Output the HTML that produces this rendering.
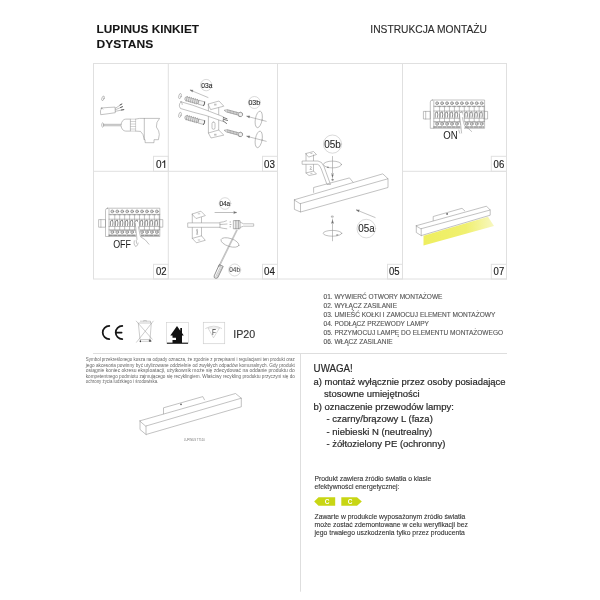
<!DOCTYPE html>
<html><head><meta charset="utf-8">
<style>
html,body{margin:0;padding:0;background:#fff;width:600px;height:600px;overflow:hidden}
svg{position:absolute;left:0;top:0;display:block;filter:blur(0.45px)}
text{font-family:"Liberation Sans",sans-serif}
</style></head><body>
<svg width="600" height="600" viewBox="0 0 600 600">
<!-- titles -->
<g fill="#151515" stroke="#151515" stroke-width="0.08" font-weight="bold" font-size="11.2">
<text x="96.6" y="32.9" textLength="102.4" lengthAdjust="spacingAndGlyphs">LUPINUS KINKIET</text>
<text x="96.6" y="47.5" textLength="56.6" lengthAdjust="spacingAndGlyphs">DYSTANS</text>
</g>
<text x="370.3" y="32.6" font-size="10.3" fill="#2b2b2b" stroke="#2b2b2b" stroke-width="0.12" textLength="116.6" lengthAdjust="spacingAndGlyphs">INSTRUKCJA MONTAŻU</text>

<!-- grid -->
<g stroke="#e0e0e0" stroke-width="1" fill="none">
<rect x="93.5" y="63.5" width="413" height="215.5"/>
<line x1="93.5" y1="171.3" x2="277.5" y2="171.3"/>
<line x1="402.5" y1="171.3" x2="506.5" y2="171.3"/>
<line x1="168.3" y1="63.5" x2="168.3" y2="279"/>
<line x1="277.5" y1="63.5" x2="277.5" y2="279"/>
<line x1="402.5" y1="63.5" x2="402.5" y2="279"/>
<!-- number boxes -->
<rect x="153.5" y="156.3" width="14.8" height="15"/>
<rect x="262.5" y="156.3" width="15" height="15"/>
<rect x="491.3" y="156.3" width="15.2" height="15"/>
<rect x="153.5" y="264.3" width="14.8" height="14.7"/>
<rect x="262.5" y="264.3" width="15" height="14.7"/>
<rect x="387.5" y="264.3" width="15" height="14.7"/>
<rect x="491.3" y="264.3" width="15.2" height="14.7"/>
</g>
<g fill="#222" stroke="#222" stroke-width="0.15" font-size="10">
<text x="155.9" y="167.7">0</text>
<text x="264.1" y="167.7" textLength="10.9" lengthAdjust="spacingAndGlyphs">03</text>
<text x="493.6" y="167.7" textLength="10.6" lengthAdjust="spacingAndGlyphs">06</text>
<text x="155.9" y="275.4" textLength="10.6" lengthAdjust="spacingAndGlyphs">02</text>
<text x="264.1" y="275.4" textLength="10.9" lengthAdjust="spacingAndGlyphs">04</text>
<text x="389" y="275.4" textLength="10.6" lengthAdjust="spacingAndGlyphs">05</text>
<text x="493.6" y="275.4" textLength="10.6" lengthAdjust="spacingAndGlyphs">07</text>
</g>
<path d="M164.7,160.2 V167.9 M164.7,160.4 Q163.9,162 162.2,162.6" fill="none" stroke="#222" stroke-width="1.05"/>
<!-- steps -->
<g fill="#555" stroke="#555" stroke-width="0.12" font-size="6.55">
<text x="323.5" y="299.2">01. WYWIERĆ OTWORY MONTAŻOWE</text>
<text x="323.5" y="308.1">02. WYŁĄCZ ZASILANIE</text>
<text x="323.5" y="317.0">03. UMIEŚĆ KOŁKI I ZAMOCUJ ELEMENT MONTAŻOWY</text>
<text x="323.5" y="325.9">04. PODŁĄCZ PRZEWODY LAMPY</text>
<text x="323.5" y="334.8">05. PRZYMOCUJ LAMPĘ DO ELEMENTU MONTAŻOWEGO</text>
<text x="323.5" y="343.7">06. WŁĄCZ ZASILANIE</text>
</g>

<!-- IP20 -->
<text x="233.2" y="338.3" font-size="10.8" fill="#333" stroke="#333" stroke-width="0.15" textLength="22" lengthAdjust="spacingAndGlyphs">IP20</text>

<!-- separators -->
<g stroke="#dedede" stroke-width="1">
<line x1="93" y1="353.5" x2="507" y2="353.5"/>
<line x1="300.5" y1="353.5" x2="300.5" y2="591.7"/>
</g>

<!-- UWAGA -->
<g fill="#2a2a2a" stroke="#2a2a2a" stroke-width="0.2" font-size="9.5">
<text x="313.6" y="371.9" font-size="10.6" textLength="39.2" lengthAdjust="spacingAndGlyphs">UWAGA!</text>
<text x="313.5" y="385" textLength="192" lengthAdjust="spacingAndGlyphs">a) montaż wyłącznie przez osoby posiadające</text>
<text x="324" y="397.4">stosowne umiejętności</text>
<text x="313.5" y="409.9">b) oznaczenie przewodów lampy:</text>
<text x="326.5" y="422.4">- czarny/brązowy L (faza)</text>
<text x="326.5" y="434.9">- niebieski N (neutrealny)</text>
<text x="326.5" y="447.4">- żółtozielony PE (ochronny)</text>
</g>

<g fill="#333" stroke="#333" stroke-width="0.1" font-size="6.8">
<text x="314.5" y="481.3">Produkt zawiera źródło światła o klasie</text>
<text x="314.5" y="489.2">efektywności energetycznej:</text>
<text x="314.5" y="519.2">Zawarte w produkcie wyposażonym źródło światła</text>
<text x="314.5" y="527.1">może zostać zdemontowane w celu weryfikacji bez</text>
<text x="314.5" y="535">jego trwałego uszkodzenia tylko przez producenta</text>
</g>
<!-- energy labels -->
<g fill="#c8d614">
<polygon points="314.2,501.5 318.5,497.2 335.2,497.2 335.2,505.8 318.5,505.8"/>
<polygon points="341.3,497.2 357,497.2 361.8,501.5 357,505.8 341.3,505.8"/>
</g>
<g fill="#fff" font-size="6.5" font-weight="bold" text-anchor="middle">
<text x="327" y="503.8">C</text>
<text x="350" y="503.8">C</text>
</g>

<!-- WEEE paragraph -->
<g fill="#666" font-size="5.2">
<text x="85.8" y="361.3" textLength="209" lengthAdjust="spacingAndGlyphs">Symbol przekreślonego kosza na odpady oznacza, że zgodnie z przepisami i regulacjami ten produkt oraz</text>
<text x="85.8" y="366.8" textLength="209" lengthAdjust="spacingAndGlyphs">jego akcesoria powinny być utylizowane oddzielnie od zwykłych odpadów komunalnych. Gdy produkt</text>
<text x="85.8" y="372.3" textLength="209" lengthAdjust="spacingAndGlyphs">osiągnie koniec okresu eksploatacji, użytkownik może się zdecydować na oddanie produktu do</text>
<text x="85.8" y="377.8" textLength="209" lengthAdjust="spacingAndGlyphs">kompetentnego podmiotu zajmującego się recyklingiem. Właściwy recykling produktu przyczyni się do</text>
<text x="85.8" y="383.3" textLength="72.5" lengthAdjust="spacingAndGlyphs">ochrony życia ludzkiego i środowiska.</text>
</g>
<!-- ===== DRAWINGS ===== -->
<g fill="none" stroke="#909090" stroke-width="0.55" stroke-linejoin="round" stroke-linecap="round">
<!-- panel 01 -->
<ellipse cx="103" cy="98.3" rx="1.1" ry="2.4" transform="rotate(20 103 98.3)"/>
<path d="M101.6,108 Q99.6,110.5 100.7,114.7 Q108,113.8 115.3,112.7 L115.1,107.1 Q108,107.4 101.6,108 Z"/>
<path d="M101,108.2 Q102.5,107.6 103,109"/>
<path d="M115.3,108.3 L121.7,104.2 M115.3,109.8 L122.3,106.8 M115.3,111.3 L123.7,109.7"/>
<path d="M120,104.9 L121.9,104 M120.5,107.5 L122.5,106.7 M121.3,110 L123.8,109.6" stroke="#555" stroke-width="0.9"/>
<ellipse cx="102.7" cy="125" rx="1" ry="2.2"/>
<path d="M104,124.3 H121 M104,125.8 H121" />
<path d="M104.5,125 H120.5" stroke="#aaa" stroke-width="0.4" stroke-dasharray="0.4,0.6"/>
<path d="M121,124.8 Q122,119.2 125.8,119.1 H130.4 V131.1 H125.8 Q122,131 121,126"/>
<path d="M130.4,119.1 H135.6 V131.1 H130.4 M130.4,121.5 H135.6 M130.4,124 H135.6 M130.4,126.5 H135.6 M130.4,129 H135.6" stroke="#b0b0b0"/>
<path d="M135.6,119.1 L139.6,118.4 H159.6 Q156,122 156.4,127 Q159.4,131 159.3,134.5 L158.4,139.7 H154 V142.7 H145.1 V139.7 L144.3,139.7 Q143.6,133.6 140.5,131.4 L135.6,131.1"/>
<path d="M144.3,118.4 V139.7"/>

<!-- panel 03 -->
<circle cx="206.2" cy="85.1" r="5.7" stroke="#bbb"/>
<path d="M208,97.5 L190.5,90.2 M190.3,90.1 L192.8,90.2 M190.3,90.1 L192.2,91.7"/>
<ellipse cx="180" cy="96.1" rx="1.2" ry="2.7" transform="rotate(15 180 96.1)"/>
<ellipse cx="180" cy="114.9" rx="1.2" ry="2.7" transform="rotate(15 180 114.9)"/>




<defs><g id="dowel"><path d="M0,-1.2 L1.50,-2.4 L2.55,-1.6 L3.60,-2.4 L4.65,-1.6 L5.70,-2.4 L6.75,-1.6 L7.80,-2.4 L8.85,-1.6 L9.90,-2.4 L10.95,-1.6 L12.00,-2.4 L13.05,-1.6 L14,-1.8 L14,1.8 L13.05,1.6 L12.00,2.4 L10.95,1.6 L9.90,2.4 L8.85,1.6 L7.80,2.4 L6.75,1.6 L5.70,2.4 L4.65,1.6 L3.60,2.4 L2.55,1.6 L1.50,2.4 L0,1.2 Z" fill="#e4e4e4" stroke="#808080" stroke-width="0.5"/>
<path d="M1.50,-2.3 L1.50,2.3 M3.60,-2.3 L3.60,2.3 M5.70,-2.3 L5.70,2.3 M7.80,-2.3 L7.80,2.3 M9.90,-2.3 L9.90,2.3 M12.00,-2.3 L12.00,2.3" stroke="#8a8a8a" stroke-width="0.5"/>
<path d="M14,-2 H19.6 Q20.4,0 19.6,2 H14 Z" fill="#f4f4f4" stroke="#8a8a8a" stroke-width="0.5"/>
<path d="M19.6,-2 Q20.4,0 19.6,2" stroke="#555" stroke-width="0.8"/></g><g id="screw"><path d="M0,0 L2.5,-1.2 H15 V1.2 H2.5 Z" fill="#e8e8e8" stroke="#808080" stroke-width="0.5"/>
<path d="M3.00,-1.2 L3.70,1.2 M4.50,-1.2 L5.20,1.2 M6.00,-1.2 L6.70,1.2 M7.50,-1.2 L8.20,1.2 M9.00,-1.2 L9.70,1.2 M10.50,-1.2 L11.20,1.2 M12.00,-1.2 L12.70,1.2 M13.50,-1.2 L14.20,1.2" stroke="#8a8a8a" stroke-width="0.45"/>
<path d="M15,-1.2 L15.5,-2.3 Q18.6,-2.6 18.8,0 Q18.6,2.6 15.5,2.3 L15,1.2" fill="#f0f0f0" stroke="#6a6a6a" stroke-width="0.6"/></g></defs>
<use href="#dowel" transform="translate(185.3,98.4) rotate(16)"/>
<use href="#dowel" transform="translate(185.3,117.2) rotate(16)"/>
<use href="#screw" transform="translate(224.5,110.2) rotate(15)"/>
<use href="#screw" transform="translate(224.5,130.2) rotate(15)"/>
<path d="M208.4,104 L219,101 L223.8,106.2 L211,109.5 Z M208.4,104 V133 L211,138 L223.8,135.1 L218.7,130 L208.4,133 M218.7,108 V130 M214.5,104.2 h1.6 M214.5,105 h1.6 M214.5,134.3 h1.6 M214.5,135.1 h1.6"/>
<rect x="212" y="122" width="3" height="7.3" rx="1.5"/>
<path d="M181,101.75 Q192,104.6 206,110 L223.4,116.8 L223.4,121.6 L206,115.5 Q193.5,112.5 180.5,108.5 Q177.8,105 181,101.75 Z" fill="#fff"/>
<path d="M181,101.75 Q182.5,102.3 182.3,104.5"/>
<path d="M223.5,117.5 L227,118.8 M223.3,119.2 L227.5,120.5 M223,120.8 L226.6,123.5" stroke="#555" stroke-width="0.8"/>




<circle cx="254.4" cy="102.5" r="6" stroke="#bbb"/>
<ellipse cx="258.75" cy="119.4" rx="3.4" ry="8.4" transform="rotate(10 258.75 119.4)"/>
<ellipse cx="258.75" cy="139.4" rx="3.4" ry="8.4" transform="rotate(10 258.75 139.4)"/>
<path d="M266.2,121.3 L247,116.3 M247,116.3 L249.3,115.8 M247,116.3 L248.9,117.6"/>
<path d="M266.2,141.3 L247,136.3 M247,136.3 L249.3,135.8 M247,136.3 L248.9,137.6"/>

<!-- panel 02 & 06 breakers -->
<g id="brk">
<path d="M107.5,208.2 H159.8 V236.5 H105.5 V210.2 Q105.5,208.2 107.5,208.2Z" />
<line x1="109.0" y1="209.2" x2="109.0" y2="236.5"/>
<rect x="99.0" y="219.6" width="6.5" height="7.6"/>
<line x1="100.9" y1="219.6" x2="100.9" y2="227.2"/>
<rect x="159.8" y="219.6" width="3" height="7.6"/>
<line x1="109.0" y1="214.39999999999998" x2="159.8" y2="214.39999999999998"/>
<line x1="109.0" y1="219.2" x2="159.8" y2="219.2"/>
<line x1="109.0" y1="226.5" x2="159.8" y2="226.5"/>
<line x1="109.0" y1="229.79999999999998" x2="159.8" y2="229.79999999999998"/>
<circle cx="112.30" cy="211.39999999999998" r="1.45" fill="#d4d4d4" stroke="#707070"/>
<circle cx="112.30" cy="232.1" r="1.45" fill="#d4d4d4" stroke="#707070"/>
<line x1="114.75" y1="214.39999999999998" x2="114.75" y2="229.79999999999998"/>
<path d="M110.40,225.5 V222.0 Q110.60,219.79999999999998 112.30,220.0 M112.60,220.39999999999998 Q113.50,222.7 112.70,225.5" stroke="#606060" stroke-width="0.7"/>
<path d="M110.10,214.79999999999998 h1.2 M112.90,214.79999999999998 h1.2 M110.10,230.39999999999998 h1.2 M112.90,230.39999999999998 h1.2" stroke="#777"/>
<circle cx="117.25" cy="211.39999999999998" r="1.45" fill="#d4d4d4" stroke="#707070"/>
<circle cx="117.25" cy="232.1" r="1.45" fill="#d4d4d4" stroke="#707070"/>
<line x1="119.70" y1="214.39999999999998" x2="119.70" y2="229.79999999999998"/>
<path d="M115.35,225.5 V222.0 Q115.55,219.79999999999998 117.25,220.0 M117.55,220.39999999999998 Q118.45,222.7 117.65,225.5" stroke="#606060" stroke-width="0.7"/>
<path d="M115.05,214.79999999999998 h1.2 M117.85,214.79999999999998 h1.2 M115.05,230.39999999999998 h1.2 M117.85,230.39999999999998 h1.2" stroke="#777"/>
<circle cx="122.20" cy="211.39999999999998" r="1.45" fill="#d4d4d4" stroke="#707070"/>
<circle cx="122.20" cy="232.1" r="1.45" fill="#d4d4d4" stroke="#707070"/>
<line x1="124.65" y1="214.39999999999998" x2="124.65" y2="229.79999999999998"/>
<path d="M120.30,225.5 V222.0 Q120.50,219.79999999999998 122.20,220.0 M122.50,220.39999999999998 Q123.40,222.7 122.60,225.5" stroke="#606060" stroke-width="0.7"/>
<path d="M120.00,214.79999999999998 h1.2 M122.80,214.79999999999998 h1.2 M120.00,230.39999999999998 h1.2 M122.80,230.39999999999998 h1.2" stroke="#777"/>
<circle cx="127.15" cy="211.39999999999998" r="1.45" fill="#d4d4d4" stroke="#707070"/>
<circle cx="127.15" cy="232.1" r="1.45" fill="#d4d4d4" stroke="#707070"/>
<line x1="129.60" y1="214.39999999999998" x2="129.60" y2="229.79999999999998"/>
<path d="M125.25,225.5 V222.0 Q125.45,219.79999999999998 127.15,220.0 M127.45,220.39999999999998 Q128.35,222.7 127.55,225.5" stroke="#606060" stroke-width="0.7"/>
<path d="M124.95,214.79999999999998 h1.2 M127.75,214.79999999999998 h1.2 M124.95,230.39999999999998 h1.2 M127.75,230.39999999999998 h1.2" stroke="#777"/>
<circle cx="132.10" cy="211.39999999999998" r="1.45" fill="#d4d4d4" stroke="#707070"/>
<circle cx="132.10" cy="232.1" r="1.45" fill="#d4d4d4" stroke="#707070"/>
<line x1="134.55" y1="214.39999999999998" x2="134.55" y2="229.79999999999998"/>
<path d="M130.20,225.5 V222.0 Q130.40,219.79999999999998 132.10,220.0 M132.40,220.39999999999998 Q133.30,222.7 132.50,225.5" stroke="#606060" stroke-width="0.7"/>
<path d="M129.90,214.79999999999998 h1.2 M132.70,214.79999999999998 h1.2 M129.90,230.39999999999998 h1.2 M132.70,230.39999999999998 h1.2" stroke="#777"/>
<circle cx="137.05" cy="211.39999999999998" r="1.45" fill="#d4d4d4" stroke="#707070"/>
<circle cx="137.05" cy="232.1" r="1.45" fill="#d4d4d4" stroke="#707070"/>
<line x1="139.50" y1="214.39999999999998" x2="139.50" y2="229.79999999999998"/>
<path d="M135.15,225.5 V222.0 Q135.35,219.79999999999998 137.05,220.0 M137.35,220.39999999999998 Q138.25,222.7 137.45,225.5" stroke="#606060" stroke-width="0.7"/>
<path d="M134.85,214.79999999999998 h1.2 M137.65,214.79999999999998 h1.2 M134.85,230.39999999999998 h1.2 M137.65,230.39999999999998 h1.2" stroke="#777"/>
<circle cx="142.00" cy="211.39999999999998" r="1.45" fill="#d4d4d4" stroke="#707070"/>
<circle cx="142.00" cy="232.1" r="1.45" fill="#d4d4d4" stroke="#707070"/>
<line x1="144.45" y1="214.39999999999998" x2="144.45" y2="229.79999999999998"/>
<path d="M140.10,225.5 V222.0 Q140.30,219.79999999999998 142.00,220.0 M142.30,220.39999999999998 Q143.20,222.7 142.40,225.5" stroke="#606060" stroke-width="0.7"/>
<path d="M139.80,214.79999999999998 h1.2 M142.60,214.79999999999998 h1.2 M139.80,230.39999999999998 h1.2 M142.60,230.39999999999998 h1.2" stroke="#777"/>
<circle cx="146.95" cy="211.39999999999998" r="1.45" fill="#d4d4d4" stroke="#707070"/>
<circle cx="146.95" cy="232.1" r="1.45" fill="#d4d4d4" stroke="#707070"/>
<line x1="149.40" y1="214.39999999999998" x2="149.40" y2="229.79999999999998"/>
<path d="M145.05,225.5 V222.0 Q145.25,219.79999999999998 146.95,220.0 M147.25,220.39999999999998 Q148.15,222.7 147.35,225.5" stroke="#606060" stroke-width="0.7"/>
<path d="M144.75,214.79999999999998 h1.2 M147.55,214.79999999999998 h1.2 M144.75,230.39999999999998 h1.2 M147.55,230.39999999999998 h1.2" stroke="#777"/>
<circle cx="151.90" cy="211.39999999999998" r="1.45" fill="#d4d4d4" stroke="#707070"/>
<circle cx="151.90" cy="232.1" r="1.45" fill="#d4d4d4" stroke="#707070"/>
<line x1="154.35" y1="214.39999999999998" x2="154.35" y2="229.79999999999998"/>
<path d="M150.00,225.5 V222.0 Q150.20,219.79999999999998 151.90,220.0 M152.20,220.39999999999998 Q153.10,222.7 152.30,225.5" stroke="#606060" stroke-width="0.7"/>
<path d="M149.70,214.79999999999998 h1.2 M152.50,214.79999999999998 h1.2 M149.70,230.39999999999998 h1.2 M152.50,230.39999999999998 h1.2" stroke="#777"/>
<circle cx="156.85" cy="211.39999999999998" r="1.45" fill="#d4d4d4" stroke="#707070"/>
<circle cx="156.85" cy="232.1" r="1.45" fill="#d4d4d4" stroke="#707070"/>
<line x1="159.30" y1="214.39999999999998" x2="159.30" y2="229.79999999999998"/>
<path d="M154.95,225.5 V222.0 Q155.15,219.79999999999998 156.85,220.0 M157.15,220.39999999999998 Q158.05,222.7 157.25,225.5" stroke="#606060" stroke-width="0.7"/>
<path d="M154.65,214.79999999999998 h1.2 M157.45,214.79999999999998 h1.2 M154.65,230.39999999999998 h1.2 M157.45,230.39999999999998 h1.2" stroke="#777"/>
<line x1="109.0" y1="235.2" x2="158.8" y2="235.2" stroke="#555" stroke-width="0.9" stroke-dasharray="3.5,1"/>
</g>
<use href="#brk" transform="translate(324.8,-108.2)"/>
<polygon points="135.3,221.8 138.2,221.8 141,236 139,240.5 136.3,240.5" fill="#fff" stroke="none"/><path d="M135.3,223.5 L137,239.5 M138.4,226.7 Q139.5,233 140.6,236.8 Q145.5,239 149,244.2 M134.2,240.8 Q133.2,244.5 135.6,246.5 Q137.8,246.2 138.2,243 M136.2,240.3 l0.4,3"/>
<polygon points="459.6,112.8 462.4,112.8 465.2,126 463.3,130.2 460.8,130.2" fill="#fff" stroke="none"/><path d="M459.4,114 L461.2,129 M462.4,117.6 Q463.6,123.5 464.9,126.4 Q469,128.5 471.7,131.5 M458.8,130 l1,3.2 M461.2,129.7 l0.4,3.3"/>

<!-- panel 04 -->
<circle cx="225" cy="203.5" r="5.8" stroke="#bbb"/>
<path d="M215,212.5 H236.2 M236.2,212.5 L233.8,211.5 M236.2,212.5 L233.8,213.5" stroke="#888"/>
<path d="M192.3,214 L200.9,211.2 L205.3,215.6 L196.4,218.4 Z M192.3,214 V238.4 L196.4,242.8 L205.3,240.3 L201.5,235.8 L192.3,238.4 M201.5,217.5 V235.8 M198.2,213.8 h1.6 M198.2,240 h1.6"/>
<path d="M197.6,229.2 Q196,230 197,231.5 Q198.3,233 196.8,234.5 M196.4,229.6 Q198.6,230.6 197.3,232 Q196.2,233.5 197.6,234.6"/>
<path d="M188.1,222.9 H220 V227.3 H188.1 Z" fill="#fff"/>
<path d="M220,222.4 Q224,222 226.5,220.8 M220,224.5 Q224,224.3 227,224 M220,227.6 Q223,228.5 226.8,228.8"/>
<path d="M233.75,220.6 H240 V228.75 H233.75 Z M235.3,220.6 V228.75 M236.9,220.6 V228.75 M238.5,220.6 V228.75" stroke="#777"/>
<path d="M240,222 L243.5,223.8 H253.7 V226.2 H243.5 L240,227.5"/>
<path d="M230,224.5 h1 M230,222 h0.6 M230,226.8 h0.6" stroke="#777"/>
<ellipse cx="230" cy="242.5" rx="9.4" ry="4" transform="rotate(18 230 242.5)"/>
<path d="M236.5,230 L218.5,266.5 M237.2,230.4 L219.3,266.8"/>
<path d="M219.6,264.8 L223.2,266.4 L217.8,277.6 Q216,279 214.3,277.6 L214.2,276.3 Z" stroke="#606060" stroke-width="0.7"/><path d="M220.8,266.2 L215.8,276.5 M222,266.8 L217,277" stroke="#888" stroke-width="0.5"/>
<circle cx="234.7" cy="270" r="6" stroke="#bbb"/>

<!-- panel 05 -->
<circle cx="332.5" cy="144.1" r="9.1" stroke="#bbb"/>
<ellipse cx="332.5" cy="164.5" rx="9" ry="3.4"/>
<path d="M332.5,156.5 V178 M332.5,176 L331.5,173.5 M332.5,176 L333.5,173.5"/>
<circle cx="332.5" cy="179.8" r="0.8" fill="#777"/>
<path d="M306,153.5 L313.5,151.5 L316.5,154.5 L309,157 Z M306,153.5 V173 L309,175.5 L316.5,174 L313.5,171 L306,173 M313.5,155 V171 M310.8,153.4 h1.2 M310.8,173.3 h1.2"/><path d="M310.2,166.6 Q311.8,166.3 311.3,167.6 L309.9,169.4 H311.7"/>
<path d="M302.5,161 H318 Q322,161.3 324,166.5 L330.5,184.5 L327,184.5 L321.3,169 Q319.5,164.3 317.5,164.3 H302.5 Z" fill="#fff"/>
<path d="M294.4,199.75 L382.8,173.85 L388,178.75 L300.5,203.6 Z M300.5,203.6 V212 L388,187.5 V178.75 M294.4,199.75 V209.4 L300.5,212"/>
<path d="M313.6,192.4 V187.5 L349.5,177.9 L353,182.2"/>
<ellipse cx="366.3" cy="228.6" rx="9.3" ry="9.3" stroke="#bbb"/>
<path d="M375.1,217.5 L356.6,210 M356.6,210 L359.4,210 M356.6,210 L358.8,211.8"/>
<ellipse cx="332.5" cy="233.3" rx="9.3" ry="2.9"/>
<path d="M332.5,219 V240.8 M332.5,220.5 L331.5,223.5 M332.5,220.5 L333.5,223.5"/>
<path d="M331.8,216 h1.4 v1.2 h-1.4 z" stroke="#888"/>

<!-- panel 07 -->
<defs><linearGradient id="beam" gradientUnits="userSpaceOnUse" x1="423" y1="0" x2="495" y2="0"><stop offset="0" stop-color="#eeee60"/><stop offset="0.6" stop-color="#f0f070"/><stop offset="1" stop-color="#f8f8c4"/></linearGradient><filter id="soft" x="-10%" y="-30%" width="120%" height="160%"><feGaussianBlur stdDeviation="0.5"/></filter></defs>
<polygon points="423.5,235.8 488,216.8 494,226 423.5,245.5" fill="url(#beam)" stroke="none" filter="url(#soft)"/>
<path d="M416.3,225.7 L486.5,206.2 L490.2,210 L421.2,228.7 Z M421.2,228.7 V235.6 L490.2,215.2 V210 M416.3,225.7 V232.5 L421.2,235.6"/>
<path d="M433.2,220.6 V216.5 L462,208.3 L464.7,210.8"/>
<circle cx="447.1" cy="213.9" r="0.85" fill="#555" stroke="none"/>

<!-- bottom-left lamp -->
<path d="M140,420.8 L235.5,393.5 L241.3,398.2 L146,426 Z M146,426 V434.5 L241.3,406.8 V398.2 M140,420.8 V429.5 L146,434.5"/>
<path d="M163.5,413.8 V407.8 L202.8,396.6 L204.5,399.8"/>
<circle cx="181" cy="404.4" r="0.8" fill="#555" stroke="none"/>
</g>

<g fill="#707070" stroke="none"><polygon points="356.40,209.90 359.37,210.03 358.62,211.88"/><polygon points="332.50,220.30 333.50,223.10 331.50,223.10"/><polygon points="332.50,177.60 331.50,174.80 333.50,174.80"/><polygon points="236.60,212.50 233.80,213.50 233.80,211.50"/><polygon points="190.20,90.10 193.17,90.25 192.40,92.10"/><polygon points="246.90,116.30 249.86,116.03 249.36,117.97"/><polygon points="246.90,136.30 249.86,136.03 249.36,137.97"/><polygon points="338.60,234.60 336.76,236.04 336.26,234.52"/><polygon points="326.40,166.80 328.74,166.68 328.27,168.21"/></g>
<!-- label texts -->
<g fill="#2a2a2a" stroke="#2a2a2a" stroke-width="0.12" lengthAdjust="spacingAndGlyphs">
<text x="201.3" y="88" font-size="6.9" textLength="11.1" lengthAdjust="spacingAndGlyphs">03a</text>
<text x="248.4" y="105" font-size="7.2" textLength="11.7" lengthAdjust="spacingAndGlyphs">03b</text>
<text x="219.4" y="205.8" font-size="7.1" textLength="10.8" lengthAdjust="spacingAndGlyphs">04a</text>
<text x="229.2" y="272.3" font-size="7.1" textLength="10.8" lengthAdjust="spacingAndGlyphs" fill="#555" stroke="#555">04b</text>
<text x="324.3" y="147.8" font-size="10.8" textLength="16.6" lengthAdjust="spacingAndGlyphs">05b</text>
<text x="358.3" y="232" font-size="10.4" textLength="16.4" lengthAdjust="spacingAndGlyphs">05a</text>
</g>
<g fill="#222" font-size="9.7">
<text x="113.2" y="248.4" font-size="10.2" textLength="17.8" lengthAdjust="spacingAndGlyphs">OFF</text>
<text x="443.2" y="139" font-size="10.4" textLength="14.4" lengthAdjust="spacingAndGlyphs">ON</text>
</g>
<text x="184" y="441.3" font-size="2.8" fill="#777">LUPINUS T7510</text>
<!-- icons -->
<g fill="none" stroke="#151515" stroke-width="1.75" stroke-linecap="round">
<path d="M109.3,325.9 A6.6,6.6 0 0 0 109.3,339.1"/>
<path d="M122.3,325.9 A6.6,6.6 0 0 0 122.3,339.1 M116.3,332.5 H121.6"/>
</g>
<g fill="none" stroke="#9a9a9a" stroke-width="0.5">
<path d="M136,320.8 L152.5,339.5 M153.5,320.8 L136.3,342.5"/>
<path d="M138.3,323 L140,339.5 H150 L151.3,323 Z M140,321.2 H150.5 V323 M143,321 Q145,319.8 147,321"/>
<path d="M140,341.3 H152"/>
</g>
<ellipse cx="140.3" cy="341.2" rx="0.6" ry="1" fill="#222"/>
<circle cx="150" cy="340.8" r="1.2" fill="#666"/>
<rect x="166.5" y="322.5" width="22" height="21" fill="none" stroke="#cfcfcf" stroke-width="0.6"/>
<path d="M167,343.2 H188" stroke="#111" stroke-width="1.1"/>
<path d="M177,326 L170.3,335.5 H172.5 V337.8 H176 V340 H172.5 V343 H182 V335.5 H183.8 L182,333 V328 H180.3 V330.7 Z" fill="#111"/>
<rect x="203.3" y="322.3" width="21.4" height="21.4" fill="none" stroke="#cfcfcf" stroke-width="0.7"/>
<path d="M208,328 H219.5 L213.5,337.8 Z M205.3,328.6 Q214,323.8 222,328.6" fill="none" stroke="#b5b5b5" stroke-width="0.5"/>
<text x="211.9" y="335.1" font-size="8.3" fill="#333" textLength="4" lengthAdjust="spacingAndGlyphs">F</text>

</svg>
</body></html>
